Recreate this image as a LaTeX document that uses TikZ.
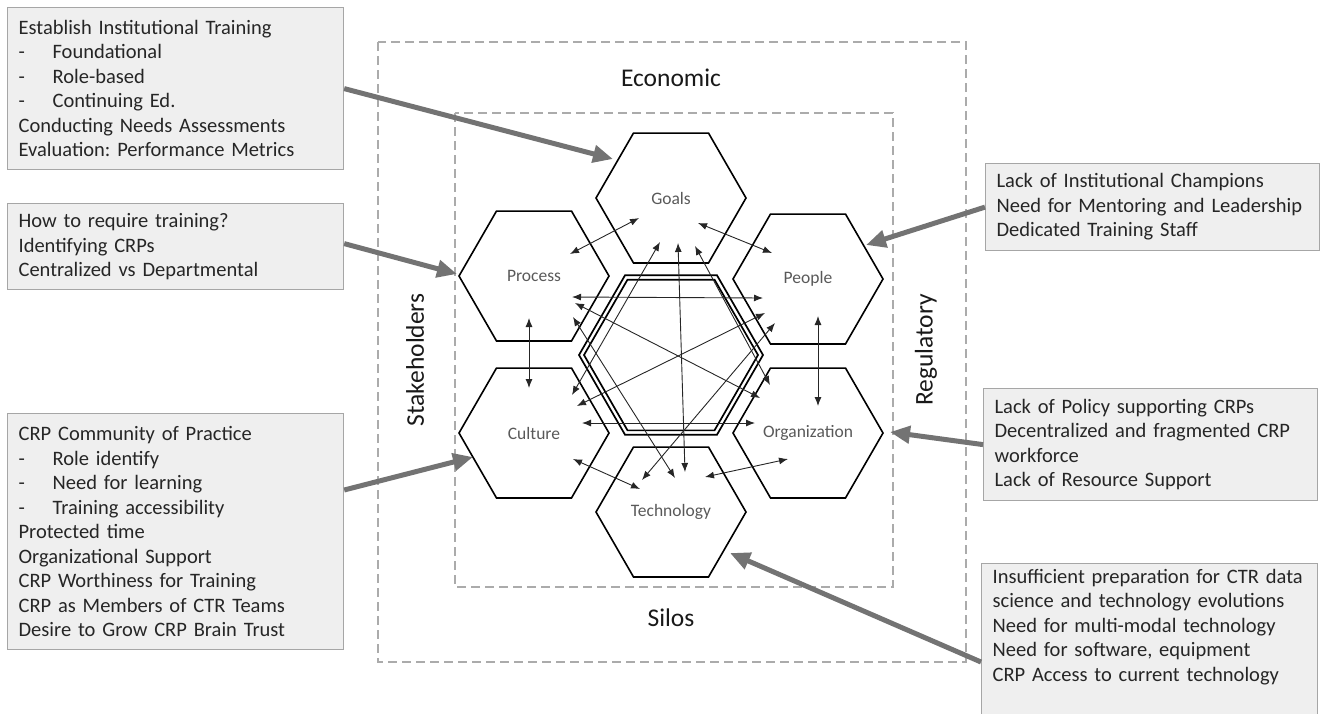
\documentclass[tikz,border=0pt]{standalone}
\usepackage{fontspec}
\setmainfont{Carlito}
\usetikzlibrary{shapes.geometric,arrows.meta,calc}
\definecolor{boxfill}{HTML}{EFEFEF}
\definecolor{boxline}{HTML}{A6A6A6}
\definecolor{arrowgray}{HTML}{737373}
\definecolor{dashgray}{HTML}{ABABAB}
\definecolor{hexlabel}{HTML}{595959}
\definecolor{boxtext}{HTML}{262626}
\frenchspacing
\tikzset{
  hexnode/.style={regular polygon, regular polygon sides=6, minimum size=150pt, inner sep=0pt,
    draw=black, line width=1.6pt, text=hexlabel, font=\fontsize{17.5}{21}\selectfont},
  ringnode/.style={regular polygon, regular polygon sides=6, inner sep=0pt, draw=black, line width=1.7pt},
  link/.style={{Latex[length=9pt,width=7pt]}-{Latex[length=9pt,width=7pt]}, line width=0.9pt, draw=black!85},
  callout/.style={-{Triangle[length=20pt,width=17pt]}, line width=5pt, draw=arrowgray},
  frame/.style={draw=dashgray, line width=2pt, dash pattern=on 9pt off 5pt},
  tbox/.style={draw=boxline, fill=boxfill, line width=1.2pt, anchor=north west, align=left,
    inner xsep=11pt, inner ysep=0pt, text=boxtext, font=\fontsize{20.5}{24.5}\selectfont},
  axislabel/.style={font=\fontsize{25.5}{30}\selectfont, text=black!90, inner sep=0pt}
}
\newcommand\dashitem[1]{\makebox[34pt][l]{-}#1}
\begin{document}
\begin{tikzpicture}[x=1pt,y=-1pt]
\useasboundingbox (0,0) rectangle (1320,713);
% dashed frames
\draw[frame] (378,42) rectangle (966,662);
\draw[frame] (455,113) rectangle (893,587);
\node[axislabel] (econ) at (671,78) {Economic};
\node[axislabel] (silos) at (671,618) {Silos};
\node[axislabel, rotate=90] (stake) at (415,360) {Stakeholders};
\node[axislabel, rotate=90] (reg) at (926,350) {Regulatory};
% hexagons
\node[hexnode] (goals) at (671,198) {Goals};
\node[hexnode] (process) at (534,276) {Process};
\node[hexnode] (people) at (808,279) {People};
\node[hexnode] (culture) at (534,433) {Culture};
\node[hexnode] (org) at (808,433) {Organization};
\node[hexnode] (tech) at (671,512) {Technology};
\node[ringnode, minimum size=184pt] (ringout) at (671,355) {};
\node[ringnode, minimum size=174pt] (ringin) at (671,355) {};
% links
\draw[link] ($(goals)+(-32,20)$) -- ($(process)+(36,-22)$);
\draw[link] ($(goals)+(27,25)$) -- ($(people)+(-36,-26)$);
\draw[link] ($(goals)+(-11,44)$) -- ($(culture)+(38,-38)$);
\draw[link] ($(goals)+(7,45)$) -- ($(tech)+(14,-40)$);
\draw[link] ($(goals)+(24,48)$) -- ($(org)+(-38,-48)$);
\draw[link] ($(process)+(-5,42)$) -- ($(culture)+(-5,-45)$);
\draw[link] ($(process)+(38,21)$) -- ($(people)+(-45,19)$);
\draw[link] ($(process)+(41,27)$) -- ($(org)+(-48,-35)$);
\draw[link] ($(process)+(39,41)$) -- ($(tech)+(4,-34)$);
\draw[link] ($(people)+(10,37)$) -- ($(org)+(10,-27)$);
\draw[link] ($(people)+(-43,34)$) -- ($(culture)+(43,-27)$);
\draw[link] ($(people)+(-33,44)$) -- ($(tech)+(-29,-32)$);
\draw[link] ($(culture)+(48,-10)$) -- ($(org)+(-53,-10)$);
\draw[link] ($(culture)+(39,26)$) -- ($(tech)+(-31,-23)$);
\draw[link] ($(org)+(-20,26)$) -- ($(tech)+(34,-35)$);
% text boxes
\node[tbox, text width=314pt, minimum width=336pt, minimum height=162pt] (b1) at (7,7)
 {Establish Institutional Training\\ \dashitem{Foundational}\\ \dashitem{Role-based}\\ \dashitem{Continuing Ed.}\\ Conducting Needs Assessments\\ Evaluation: Performance Metrics};
\node[tbox, text width=314pt, minimum width=336pt, minimum height=86pt] (b2) at (7,203)
 {How to require training?\\ Identifying CRPs\\ Centralized vs Departmental};
\node[tbox, text width=314pt, minimum width=336pt, minimum height=236pt] (b3) at (7,413)
 {CRP Community of Practice\\ \dashitem{Role identify}\\ \dashitem{Need for learning}\\ \dashitem{Training accessibility}\\ Protected time\\ Organizational Support\\ CRP Worthiness for Training\\ CRP as Members of CTR Teams\\ Desire to Grow CRP Brain Trust};
\node[tbox, text width=312pt, minimum width=334pt, minimum height=87pt] (b4) at (985,163)
 {Lack of Institutional Champions\\ Need for Mentoring and Leadership\\ Dedicated Training Staff};
\node[tbox, text width=312pt, minimum width=334pt, minimum height=112pt] (b5) at (983,388)
 {Lack of Policy supporting CRPs\\ Decentralized and fragmented CRP\\ workforce\\ Lack of Resource Support};
\node[tbox, text width=314pt, minimum width=336pt, minimum height=172pt] (b6) at (981,563)
 {Insufficient preparation for CTR data\\ science and technology evolutions\\ Need for multi-modal technology\\ Need for software, equipment\\ CRP Access to current technology\\ ~\\ ~};
% callout arrows
\draw[callout] (b1.east) -- ($(goals)+(-58,-39)$);
\draw[callout] ($(b2.east)+(0,-3)$) -- ($(process)+(-77,-2)$);
\draw[callout] ($(b3.north east)+(0,77)$) -- ($(culture)+(-61,24)$);
\draw[callout] (b4.west) -- ($(people)+(58,-34)$);
\draw[callout] (b5.west) -- ($(org)+(82,-1)$);
\draw[callout] ($(b6.north west)+(0,99)$) -- ($(tech)+(59,41)$);
\end{tikzpicture}
\end{document}
